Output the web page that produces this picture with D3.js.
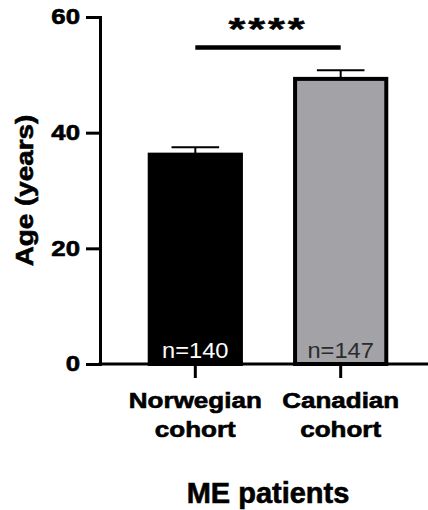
<!DOCTYPE html>
<html>
<head>
<meta charset="utf-8">
<script src="https://cdn.jsdelivr.net/npm/d3@7"></script>
<style>
  html, body { margin: 0; padding: 0; background: #fff; }
  svg { display: block; font-family: "Liberation Sans", Arial, Helvetica, sans-serif; }
</style>
</head>
<body>
<div id="chart"></div>
<script>
// data
var cohorts = ["Norwegian", "Canadian"];
var cohortLines = [["Norwegian", "cohort"], ["Canadian", "cohort"]];
var meanAge = [36.2, 49.3];
var semAge = [1.3, 1.5];
var nPatients = [140, 147];
var barColors = ["#000000", "#a3a2a7"];
var nColors = ["#ffffff", "#2b2b2b"];
var yTicks = [0, 20, 40, 60];
var sigLabel = "****";

var width = 428, height = 510;

var svg = d3.select("#chart").append("svg")
	.attr("width", width)
	.attr("height", height);

//scales
var y = d3.scaleLinear().domain([0, 60]).range([364, 17]);
var x = d3.scaleBand().domain(cohorts).range([123, 413]).paddingInner(0.345).paddingOuter(0.17);
var axisX = 100;

var data = cohorts.map(function (c, i) {
	return { name: c, mean: meanAge[i], sem: semAge[i], n: nPatients[i], fill: barColors[i], textFill: nColors[i], lines: cohortLines[i] };
});

//makes bold text a bit heavier, closer to the exported figure
function heavy(sel, w) {
	sel.attr("font-weight", "bold").attr("fill", "#000").attr("stroke", "#000").attr("stroke-width", w || 0.6);
}

//error bars (only the upper half shows)
var err = svg.append("g");
err.selectAll(".stem").data(data).enter().append("line")
	.attr("x1", function (d) { return x(d.name) + x.bandwidth() / 2; })
	.attr("x2", function (d) { return x(d.name) + x.bandwidth() / 2; })
	.attr("y1", function (d) { return y(d.mean); })
	.attr("y2", function (d) { return y(d.mean + d.sem); })
	.attr("stroke", "#000").attr("stroke-width", 2);
err.selectAll(".cap").data(data).enter().append("line")
	.attr("x1", function (d) { return x(d.name) + x.bandwidth() / 4; })
	.attr("x2", function (d) { return x(d.name) + x.bandwidth() * 3 / 4; })
	.attr("y1", function (d) { return y(d.mean + d.sem); })
	.attr("y2", function (d) { return y(d.mean + d.sem); })
	.attr("stroke", "#000").attr("stroke-width", 2);

//bars
svg.selectAll("rect.bar").data(data).enter().append("rect")
	.attr("class", "bar")
	.attr("x", function (d) { return x(d.name) + 2; })
	.attr("width", x.bandwidth() - 4)
	.attr("y", function (d) { return y(d.mean); })
	.attr("height", function (d) { return y(0) - y(d.mean); })
	.attr("fill", function (d) { return d.fill; })
	.attr("stroke", "#000")
	.attr("stroke-width", 4);

//n= labels inside the bars
svg.selectAll("text.n").data(data).enter().append("text")
	.attr("class", "n")
	.attr("transform", function (d) { return "translate(" + (x(d.name) + x.bandwidth() / 2) + ",358) scale(1.1,1)"; })
	.attr("text-anchor", "middle")
	.attr("font-size", 21.5)
	.attr("fill", function (d) { return d.textFill; })
	.text(function (d) { return "n=" + d.n; });

//y axis
var yAxis = svg.append("g")
	.attr("transform", "translate(" + axisX + ",0)")
	.call(d3.axisLeft(y).tickValues(yTicks).tickSize(14).tickSizeOuter(0));
yAxis.select(".domain").attr("stroke-width", 3).attr("stroke-linecap", "square");
yAxis.selectAll(".tick line").attr("stroke-width", 3);
yAxis.selectAll(".tick text")
	.attr("x", null)
	.attr("transform", "translate(-20,0) scale(1.2,1)")
	.attr("font-size", 21.5)
	.call(heavy);

//x axis
var xAxis = svg.append("g")
	.attr("transform", "translate(0," + y(0) + ")")
	.call(d3.axisBottom(x).tickSize(14).tickSizeOuter(0));
xAxis.select(".domain").remove();
xAxis.append("line")
	.attr("x1", axisX).attr("x2", width)
	.attr("stroke", "#000").attr("stroke-width", 3).attr("stroke-linecap", "square");
xAxis.selectAll(".tick line").attr("stroke-width", 3);
xAxis.selectAll(".tick text").remove();
xAxis.selectAll(".tick").each(function (name, i) {
	var tick = d3.select(this);
	data[i].lines.forEach(function (line, j) {
		tick.append("text")
			.attr("transform", "translate(0," + (44 + j * 29) + ") scale(1.21,1)")
			.attr("text-anchor", "middle")
			.attr("font-size", 21.5)
			.call(heavy)
			.text(line);
	});
});

//axis titles
svg.append("text")
	.attr("transform", "translate(33," + (y(0) + y(60)) / 2 + ") rotate(-90) scale(1.16,1)")
	.attr("text-anchor", "middle")
	.attr("font-size", 24)
	.call(heavy)
	.text("Age (years)");

svg.append("text")
	.attr("x", (x(cohorts[0]) + x(cohorts[1]) + x.bandwidth()) / 2)
	.attr("y", 503)
	.attr("text-anchor", "middle")
	.attr("font-size", 29)
	.call(heavy)
	.text("ME patients");

//significance bracket
var x1 = x(cohorts[0]) + x.bandwidth() / 2, x2 = x(cohorts[1]) + x.bandwidth() / 2;
svg.append("line")
	.attr("x1", x1).attr("x2", x2)
	.attr("y1", 47.5).attr("y2", 47.5)
	.attr("stroke", "#000").attr("stroke-width", 4.5);
svg.append("text")
	.attr("transform", "translate(" + (x1 + x2) / 2 + ",40) scale(1.4,1)")
	.attr("text-anchor", "middle")
	.attr("font-size", 31)
	.attr("letter-spacing", 2)
	.call(heavy, 0.5)
	.text(sigLabel);
</script>
</body>
</html>
